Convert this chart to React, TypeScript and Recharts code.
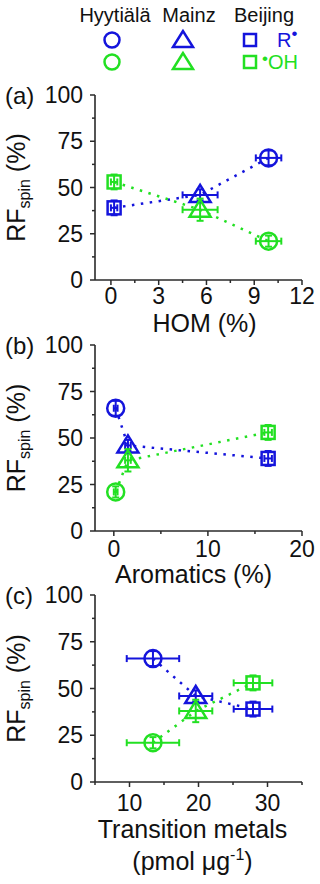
import React from "react";
import { ScatterChart, Scatter, XAxis, YAxis, ErrorBar } from "recharts";

// sites, in the order the values below are listed
const SITES = ["Hyytiälä", "Mainz", "Beijing"];

// radical fractions (%) per site
const R_SPIN = [66, 46, 39];
const R_SPIN_ERR = [4, 3, 4];
const OH_SPIN = [21, 38, 53];
const OH_SPIN_ERR = [3, 6, 4];

// x variables per site
const HOM = [9.9, 5.6, 0.2];
const HOM_ERR = [0.8, 1.1, 0.2];
const AROMATICS = [0.2, 1.5, 16.4];
const AROMATICS_ERR = [0.2, 0.3, 0.4];
const TRANSITION_METALS = [13.4, 19.6, 27.9];
const TRANSITION_METALS_ERR = [3.8, 2.4, 2.8];

// ticks
const Y_MAJOR = [0, 25, 50, 75, 100];
const Y_MINOR = [12.5, 37.5, 62.5, 87.5];
const HOM_MAJOR = [0, 3, 6, 9, 12];
const HOM_MINOR = [1.5, 4.5, 7.5, 10.5];
const AROM_MAJOR = [0, 10, 20];
const AROM_MINOR = [5, 15];
const TM_MAJOR = [10, 20, 30];
const TM_MINOR = [5, 15, 25, 35];

const BLUE = "#1414dc";
const GREEN = "#22e022";
const AXIS = "#2a2a2a";
const FONT = "'Liberation Sans', Arial, sans-serif";

type Pt = { site: string; x: number; xErr: number; y: number; yErr: number };

function buildSeries(xs: number[], xErr: number[], ys: number[], yErr: number[]): Pt[] {
  return SITES.map((site, i) => ({ site, x: xs[i], xErr: xErr[i], y: ys[i], yErr: yErr[i] })).sort(
    (a, b) => a.x - b.x
  );
}

function Marker(props: any) {
  const { cx, cy, payload, color } = props;
  if (cx == null || cy == null) return null;
  const common = { fill: "none", stroke: color, strokeWidth: 2.5 };
  if (payload.site === "Hyytiälä") return <circle cx={cx} cy={cy} r={8.5} {...common} />;
  if (payload.site === "Mainz")
    return (
      <polygon
        points={`${cx},${cy - 10} ${cx - 10.5},${cy + 7} ${cx + 10.5},${cy + 7}`}
        {...common}
        strokeLinejoin="miter"
      />
    );
  return <rect x={cx - 6.5} y={cy - 6.5} width={13} height={13} {...common} />;
}

// draws both tick line and (optionally) the label, axes get tickSize 0
function tickRenderer(orient: string, majors: number[], showLabels: boolean, labelOffset = 0) {
  return (props: any) => {
    const { x, y, payload } = props;
    const v = payload.value;
    const isMajor = majors.includes(v);
    const len = isMajor ? 5 : 3;
    let line = null;
    let label = null;
    if (orient === "bottom") {
      line = <line x1={x} x2={x} y1={y} y2={y + len} stroke={AXIS} strokeWidth={1.5} />;
      if (showLabels && isMajor)
        label = (
          <text x={x} y={y + labelOffset} textAnchor="middle" fontSize={23} fill="#111" fontFamily={FONT}>
            {v}
          </text>
        );
    } else if (orient === "top") {
      line = <line x1={x} x2={x} y1={y} y2={y - len} stroke={AXIS} strokeWidth={1.5} />;
    } else if (orient === "left") {
      line = <line x1={x} x2={x - len} y1={y} y2={y} stroke={AXIS} strokeWidth={1.5} />;
      if (showLabels && isMajor)
        label = (
          <text x={x - 12} y={y + 8} textAnchor="end" fontSize={23} fill="#111" fontFamily={FONT}>
            {v}
          </text>
        );
    } else {
      line = <line x1={x} x2={x + len} y1={y} y2={y} stroke={AXIS} strokeWidth={1.5} />;
    }
    return (
      <g>
        {line}
        {label}
      </g>
    );
  };
}

function yTitle(panel: string) {
  return (props: any) => {
    const vb = props.viewBox;
    const cy = vb.y + vb.height / 2;
    return (
      <g fontFamily={FONT} fill="#111">
        <text x={5} y={vb.y + 8.5} fontSize={24}>
          {panel}
        </text>
        <text x={25} y={cy} fontSize={25} textAnchor="middle" transform={`rotate(-90, 25, ${cy})`}>
          RF
          <tspan fontSize={16} dy={5}>
            spin
          </tspan>
          <tspan dy={-5}> (%)</tspan>
        </text>
      </g>
    );
  };
}

function xTitle(lines: React.ReactNode[], offsets: number[], shift: number) {
  return (props: any) => {
    const vb = props.viewBox;
    const cx = vb.x + vb.width / 2 + shift;
    return (
      <g fontFamily={FONT} fill="#111">
        {lines.map((l, i) => (
          <text key={i} x={cx} y={vb.y + offsets[i]} fontSize={25} textAnchor="middle">
            {l}
          </text>
        ))}
      </g>
    );
  };
}

interface PanelProps {
  top: number;
  height: number;
  bottomHeight: number;
  panel: string;
  xs: number[];
  xErr: number[];
  domain: [number, number];
  major: number[];
  minor: number[];
  tickLabelOffset: number;
  title: React.ReactNode[];
  titleOffsets: number[];
  titleShift: number;
}

function Panel(p: PanelProps) {
  const rData = buildSeries(p.xs, p.xErr, R_SPIN, R_SPIN_ERR);
  const ohData = buildSeries(p.xs, p.xErr, OH_SPIN, OH_SPIN_ERR);
  const xTicks = [...p.major, ...p.minor].sort((a, b) => a - b);
  const yTicks = [...Y_MAJOR, ...Y_MINOR].sort((a, b) => a - b);
  const dotted = (color: string) => ({
    stroke: color,
    strokeWidth: 2.5,
    strokeDasharray: "2.5 6.5",
  });

  return (
    <div style={{ position: "absolute", left: 0, top: p.top, width: 320, height: p.height }}>
      <ScatterChart width={320} height={p.height} margin={{ top: 15, right: 18, bottom: 0, left: 0 }}>
        <XAxis
          xAxisId="b"
          type="number"
          dataKey="x"
          domain={p.domain}
          allowDataOverflow
          ticks={xTicks}
          interval={0}
          tickSize={0}
          tickMargin={0}
          tickLine={false}
          tick={tickRenderer("bottom", p.major, true, p.tickLabelOffset)}
          axisLine={{ stroke: AXIS, strokeWidth: 1.6 }}
          height={p.bottomHeight}
          label={xTitle(p.title, p.titleOffsets, p.titleShift)}
        />
        <XAxis
          xAxisId="t"
          orientation="top"
          type="number"
          domain={p.domain}
          allowDataOverflow
          ticks={xTicks}
          interval={0}
          tickSize={0}
          tickMargin={0}
          tickLine={false}
          tick={tickRenderer("top", p.major, false)}
          axisLine={{ stroke: AXIS, strokeWidth: 1.6 }}
          height={0}
        />
        <YAxis
          yAxisId="l"
          type="number"
          dataKey="y"
          domain={[0, 100]}
          allowDataOverflow
          ticks={yTicks}
          interval={0}
          tickSize={0}
          tickMargin={0}
          tickLine={false}
          tick={tickRenderer("left", Y_MAJOR, true)}
          axisLine={{ stroke: AXIS, strokeWidth: 1.6 }}
          width={95}
          label={yTitle(p.panel)}
        />
        <YAxis
          yAxisId="r"
          orientation="right"
          type="number"
          domain={[0, 100]}
          allowDataOverflow
          ticks={yTicks}
          interval={0}
          tickSize={0}
          tickMargin={0}
          tickLine={false}
          tick={tickRenderer("right", Y_MAJOR, false)}
          axisLine={{ stroke: AXIS, strokeWidth: 1.6 }}
          width={0}
        />
        <Scatter
          name="R"
          data={rData}
          xAxisId="b"
          yAxisId="l"
          fill={BLUE}
          line={dotted(BLUE)}
          lineType="joint"
          shape={(s: any) => <Marker {...s} color={BLUE} />}
          isAnimationActive={false}
        >
          <ErrorBar dataKey="xErr" direction="x" width={3.5} stroke={BLUE} strokeWidth={2} />
          <ErrorBar dataKey="yErr" direction="y" width={3.5} stroke={BLUE} strokeWidth={2} />
        </Scatter>
        <Scatter
          name="OH"
          data={ohData}
          xAxisId="b"
          yAxisId="l"
          fill={GREEN}
          line={dotted(GREEN)}
          lineType="joint"
          shape={(s: any) => <Marker {...s} color={GREEN} />}
          isAnimationActive={false}
        >
          <ErrorBar dataKey="xErr" direction="x" width={3.5} stroke={GREEN} strokeWidth={2} />
          <ErrorBar dataKey="yErr" direction="y" width={3.5} stroke={GREEN} strokeWidth={2} />
        </Scatter>
      </ScatterChart>
    </div>
  );
}

function Legend() {
  const tri = (cx: number, cy: number) => `${cx},${cy - 9} ${cx - 10},${cy + 7} ${cx + 10},${cy + 7}`;
  const rows = [
    { color: BLUE, y: 40 },
    { color: GREEN, y: 62 },
  ];
  return (
    <svg width={320} height={80} style={{ position: "absolute", left: 0, top: 0 }} fontFamily={FONT}>
      <text x={115} y={22} fontSize={20} textAnchor="middle" fill="#111">
        {SITES[0]}
      </text>
      <text x={189} y={22} fontSize={20} textAnchor="middle" fill="#111">
        {SITES[1]}
      </text>
      <text x={264} y={22} fontSize={20} textAnchor="middle" fill="#111">
        {SITES[2]}
      </text>
      {rows.map((r) => (
        <g key={r.y} fill="none" stroke={r.color} strokeWidth={2.5}>
          <circle cx={112} cy={r.y} r={7.5} />
          <polygon points={tri(183, r.y)} />
          <rect x={244} y={r.y - 6} width={12} height={12} />
        </g>
      ))}
      <text x={277} y={47} fontSize={20} fill={BLUE}>
        R
        <tspan fontSize={17} dy={-8}>
          •
        </tspan>
      </text>
      <text x={262} y={69} fontSize={20} fill={GREEN}>
        <tspan fontSize={17} dy={-5}>
          •
        </tspan>
        <tspan dy={5}>OH</tspan>
      </text>
    </svg>
  );
}

export default function App() {
  return (
    <div style={{ position: "absolute", left: 0, top: 0, width: 320, height: 884, background: "#fff" }}>
      <Legend />
      <Panel
        top={80}
        height={262}
        bottomHeight={62}
        panel="(a)"
        xs={HOM}
        xErr={HOM_ERR}
        domain={[-1, 12]}
        major={HOM_MAJOR}
        minor={HOM_MINOR}
        tickLabelOffset={24}
        title={["HOM (%)"]}
        titleOffsets={[52]}
        titleShift={6}
      />
      <Panel
        top={330}
        height={263}
        bottomHeight={62}
        panel="(b)"
        xs={AROMATICS}
        xErr={AROMATICS_ERR}
        domain={[-2, 20]}
        major={AROM_MAJOR}
        minor={AROM_MINOR}
        tickLabelOffset={26}
        title={["Aromatics (%)"]}
        titleOffsets={[52]}
        titleShift={-5}
      />
      <Panel
        top={580}
        height={304}
        bottomHeight={102}
        panel="(c)"
        xs={TRANSITION_METALS}
        xErr={TRANSITION_METALS_ERR}
        domain={[5, 35]}
        major={TM_MAJOR}
        minor={TM_MINOR}
        tickLabelOffset={29}
        title={[
          "Transition metals",
          <>
            (pmol μg
            <tspan fontSize={16} dy={-10}>
              -1
            </tspan>
            <tspan dy={10}>)</tspan>
          </>,
        ]}
        titleOffsets={[56, 88]}
        titleShift={-6}
      />
    </div>
  );
}
